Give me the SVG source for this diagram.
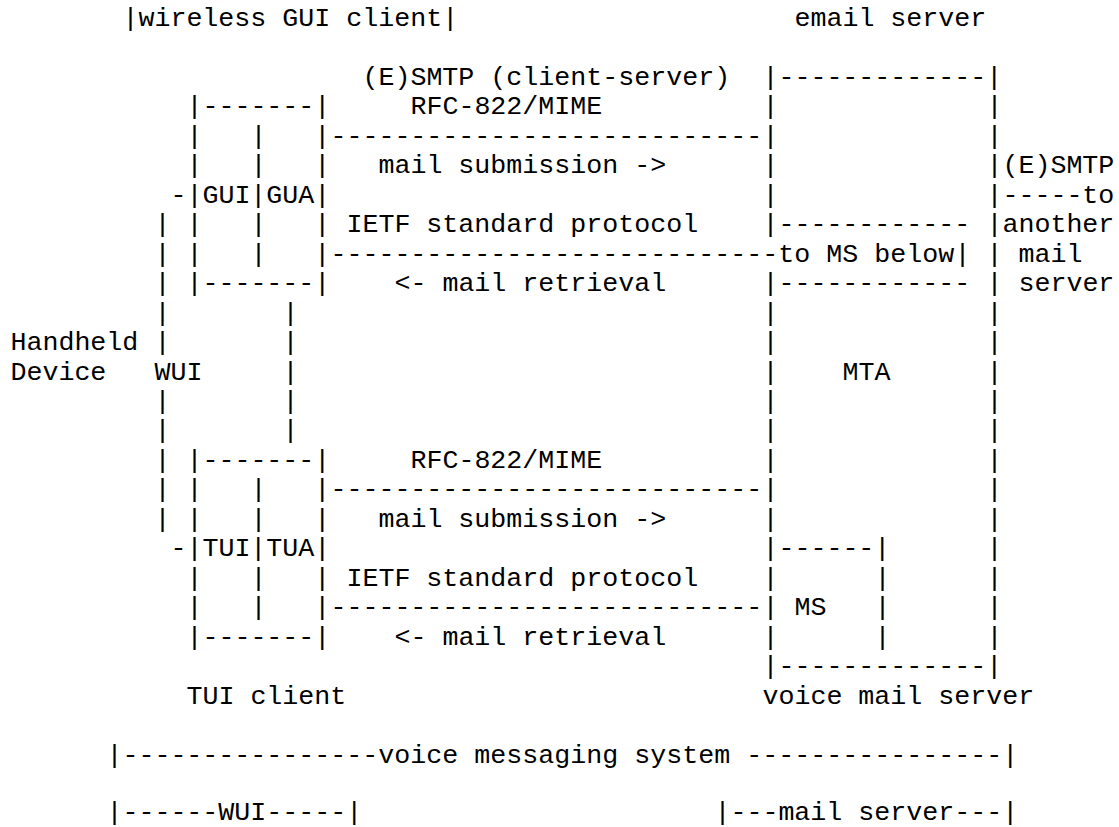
<svg xmlns="http://www.w3.org/2000/svg" width="1119" height="827" viewBox="0 0 1119 827" xml:space="preserve">
<style>
text{font-family:"Liberation Mono","Courier New",monospace;font-size:26.67px;fill:#000;white-space:pre}
</style>
<rect width="1119" height="827" fill="#fff"/>
<g id="wireless-gui-client"><text x="122.4" y="25.7">|wireless GUI client|</text></g>
<g id="email-server"><text x="794.4" y="25.7">email server</text></g>
<g id="gui-client"><text><tspan x="186.4" y="114.1">|-------|</tspan><tspan x="186.4" y="143.6">|   |   |</tspan><tspan x="186.4" y="173.1">|   |   |</tspan><tspan x="170.4" y="202.6">-|GUI|GUA|</tspan><tspan x="186.4" y="232.1">|   |   |</tspan><tspan x="186.4" y="261.5">|   |   |</tspan><tspan x="186.4" y="291.0">|-------|</tspan></text></g>
<g id="tui-client"><text><tspan x="186.4" y="467.9">|-------|</tspan><tspan x="186.4" y="497.4">|   |   |</tspan><tspan x="186.4" y="526.9">|   |   |</tspan><tspan x="170.4" y="556.3">-|TUI|TUA|</tspan><tspan x="186.4" y="585.8">|   |   |</tspan><tspan x="186.4" y="615.3">|   |   |</tspan><tspan x="186.4" y="644.8">|-------|</tspan><tspan x="186.4" y="703.7">TUI client</tspan></text></g>
<g id="handheld-device"><text><tspan x="10.4" y="350.0">Handheld</tspan><tspan x="10.4" y="379.5">Device</tspan></text></g>
<g id="wui"><text><tspan x="154.4" y="232.1">|</tspan><tspan x="154.4" y="261.5">|</tspan><tspan x="154.4" y="291.0">|</tspan><tspan x="154.4" y="320.5">|</tspan><tspan x="154.4" y="350.0">|</tspan><tspan x="154.4" y="379.5">WUI</tspan><tspan x="154.4" y="408.9">|</tspan><tspan x="154.4" y="438.4">|</tspan><tspan x="154.4" y="467.9">|</tspan><tspan x="154.4" y="497.4">|</tspan><tspan x="154.4" y="526.9">|</tspan></text></g>
<g id="connectors"><text><tspan x="282.4" y="320.5">|</tspan><tspan x="282.4" y="350.0">|</tspan><tspan x="282.4" y="379.5">|</tspan><tspan x="282.4" y="408.9">|</tspan><tspan x="282.4" y="438.4">|</tspan><tspan x="362.4" y="84.7">(E)SMTP (client-server)</tspan><tspan x="410.4" y="114.1">RFC-822/MIME</tspan><tspan x="330.4" y="143.6">---------------------------</tspan><tspan x="378.4" y="173.1">mail submission -&gt;</tspan><tspan x="346.4" y="232.1">IETF standard protocol</tspan><tspan x="330.4" y="261.5">----------------------------to MS below</tspan><tspan x="394.4" y="291.0">&lt;- mail retrieval</tspan><tspan x="410.4" y="467.9">RFC-822/MIME</tspan><tspan x="330.4" y="497.4">---------------------------</tspan><tspan x="378.4" y="526.9">mail submission -&gt;</tspan><tspan x="346.4" y="585.8">IETF standard protocol</tspan><tspan x="330.4" y="615.3">---------------------------</tspan><tspan x="394.4" y="644.8">&lt;- mail retrieval</tspan></text></g>
<g id="mta"><text><tspan x="762.4" y="84.7">|-------------|</tspan><tspan x="762.4" y="114.1">|</tspan><tspan x="762.4" y="143.6">|</tspan><tspan x="762.4" y="173.1">|</tspan><tspan x="762.4" y="202.6">|</tspan><tspan x="762.4" y="232.1">|------------</tspan><tspan x="954.4" y="261.5">|</tspan><tspan x="762.4" y="291.0">|------------</tspan><tspan x="762.4" y="320.5">|</tspan><tspan x="762.4" y="350.0">|</tspan><tspan x="762.4" y="379.5">|</tspan><tspan x="762.4" y="408.9">|</tspan><tspan x="762.4" y="438.4">|</tspan><tspan x="762.4" y="467.9">|</tspan><tspan x="762.4" y="497.4">|</tspan><tspan x="762.4" y="526.9">|</tspan><tspan x="762.4" y="556.3">|</tspan><tspan x="762.4" y="585.8">|</tspan><tspan x="762.4" y="615.3">|</tspan><tspan x="762.4" y="644.8">|</tspan><tspan x="762.4" y="674.3">|-------------|</tspan></text><text><tspan x="986.4" y="114.1">|</tspan><tspan x="986.4" y="143.6">|</tspan><tspan x="986.4" y="173.1">|</tspan><tspan x="986.4" y="202.6">|</tspan><tspan x="986.4" y="232.1">|</tspan><tspan x="986.4" y="261.5">|</tspan><tspan x="986.4" y="291.0">|</tspan><tspan x="986.4" y="320.5">|</tspan><tspan x="986.4" y="350.0">|</tspan><tspan x="986.4" y="379.5">|</tspan><tspan x="986.4" y="408.9">|</tspan><tspan x="986.4" y="438.4">|</tspan><tspan x="986.4" y="467.9">|</tspan><tspan x="986.4" y="497.4">|</tspan><tspan x="986.4" y="526.9">|</tspan><tspan x="986.4" y="556.3">|</tspan><tspan x="986.4" y="585.8">|</tspan><tspan x="986.4" y="615.3">|</tspan><tspan x="986.4" y="644.8">|</tspan></text><text x="842.4" y="379.5">MTA</text></g>
<g id="ms"><text><tspan x="778.4" y="556.3">------|</tspan><tspan x="874.4" y="585.8">|</tspan><tspan x="874.4" y="615.3">|</tspan><tspan x="874.4" y="644.8">|</tspan></text><text x="794.4" y="615.3">MS</text></g>
<g id="another-mail-server"><text><tspan x="1002.4" y="173.1">(E)SMTP</tspan><tspan x="1002.4" y="202.6">-----to</tspan><tspan x="1002.4" y="232.1">another</tspan><tspan x="1018.4" y="261.5">mail</tspan><tspan x="1018.4" y="291.0">server</tspan></text></g>
<g id="voice-mail-server"><text x="762.4" y="703.7">voice mail server</text></g>
<g id="voice-messaging-system"><text x="106.4" y="762.7">|----------------voice messaging system ----------------|</text></g>
<g id="wui-span"><text x="106.4" y="820">|------WUI-----|</text></g>
<g id="mail-server-span"><text x="714.4" y="820">|---mail server---|</text></g>
</svg>
